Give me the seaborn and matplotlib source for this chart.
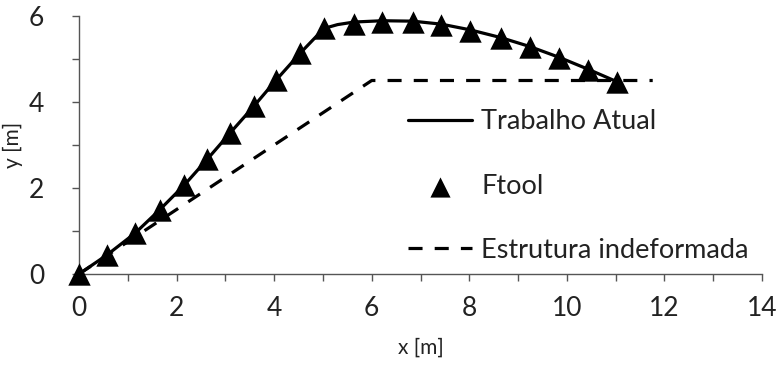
import matplotlib
matplotlib.use("Agg")
import matplotlib.pyplot as plt
import seaborn as sns
import pandas as pd
from matplotlib.ticker import MultipleLocator

# ---- data ----
ftool_x = [0.0, 0.57, 1.15, 1.66, 2.16, 2.63, 3.09, 3.59, 4.04, 4.53, 5.02,
           5.64, 6.22, 6.84, 7.43, 8.01, 8.64, 9.24, 9.84, 10.44, 11.03]
ftool_y = [0.0, 0.44, 0.95, 1.50, 2.07, 2.67, 3.27, 3.91, 4.51, 5.13, 5.71,
           5.82, 5.86, 5.86, 5.79, 5.65, 5.49, 5.28, 5.03, 4.75, 4.47]
atual_x = [0.0, 0.57, 1.15, 1.66, 2.16, 2.63, 3.09, 3.59, 4.04, 4.53, 5.02,
           5.30, 5.64, 6.22, 6.84, 7.43, 8.01, 8.64, 9.24, 9.84, 10.44, 11.03]
atual_y = [0.0, 0.44, 0.95, 1.50, 2.07, 2.67, 3.27, 3.91, 4.51, 5.13, 5.71,
           5.80, 5.86, 5.89, 5.88, 5.81, 5.68, 5.50, 5.29, 5.04, 4.76, 4.47]
indef_x = [0.0, 6.0, 11.76]
indef_y = [0.0, 4.5, 4.5]
x_ticks = [0, 2, 4, 6, 8, 10, 12, 14]
y_ticks = [0, 2, 4, 6]

sns.set_style("white")
plt.rcParams['font.family'] = ['Lato', 'DejaVu Sans']

fig = plt.figure(figsize=(7.79, 3.67), dpi=100)
ax = fig.add_axes([79/779, 1 - 274/367, 683/779, 258/367])

df_a = pd.DataFrame({"x": atual_x, "y": atual_y})
df_f = pd.DataFrame({"x": ftool_x, "y": ftool_y})
df_i = pd.DataFrame({"x": indef_x, "y": indef_y})

sns.lineplot(data=df_a, x="x", y="y", sort=False, color="black", lw=2.3,
             ax=ax, label="Trabalho Atual")
sns.scatterplot(data=df_f, x="x", y="y", marker="^", s=260, color="black",
                edgecolor="black", linewidth=0, ax=ax, label="Ftool",
                zorder=5, clip_on=False)
sns.lineplot(data=df_i, x="x", y="y", sort=False, color="black", lw=2.3,
             ax=ax, label="Estrutura indeformada")
ax.lines[-1].set_dashes([4.4, 3.8])

ax.set_xlim(0, 14)
ax.set_ylim(0, 6)
ax.set_xticks(x_ticks)
ax.set_yticks(y_ticks)
ax.xaxis.set_minor_locator(MultipleLocator(1))
ax.yaxis.set_minor_locator(MultipleLocator(1))
ax.tick_params(which="both", direction="out", length=5, width=1,
               color="#555555", labelsize=19, labelcolor="#222222",
               bottom=True, left=True)
ax.tick_params(axis="x", pad=11)
ax.tick_params(axis="y", pad=20)
for s in ["top", "right"]:
    ax.spines[s].set_visible(False)
for s in ["left", "bottom"]:
    ax.spines[s].set_color("#555555")
    ax.spines[s].set_linewidth(1)
ax.set_xlabel("x [m]", fontsize=15, color="#222222", labelpad=12)
ax.set_ylabel("y [m]", fontsize=15, color="#222222", labelpad=4)

handles, labels = ax.get_legend_handles_labels()
order = ["Trabalho Atual", "Ftool", "Estrutura indeformada"]
hmap = dict(zip(labels, handles))
leg = ax.legend([hmap[k] for k in order], order, loc="upper left",
                bbox_to_anchor=(0.482, 0.638), frameon=False, fontsize=19.5,
                handlelength=2.35, handletextpad=0.35, labelspacing=1.45,
                borderpad=0, borderaxespad=0, markerscale=0.9)
for t in leg.get_texts():
    t.set_color("#222222")

fig.savefig("out.png", dpi=100)
